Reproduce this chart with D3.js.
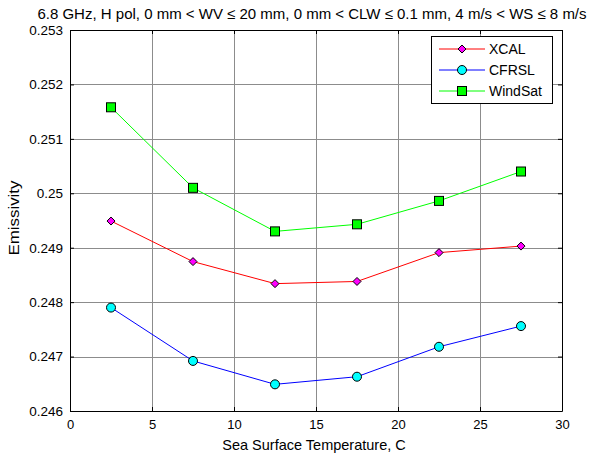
<!DOCTYPE html>
<html>
<head>
<meta charset="utf-8">
<script src="https://cdn.jsdelivr.net/npm/d3@7"></script>
<style>
  body { margin: 0; background: #fff; }
  text { font-family: "Liberation Sans", Arial, sans-serif; }
</style>
</head>
<body>
<svg id="chart" width="592" height="459"></svg>
<script>
// Sea surface temperature bins (C)
const sst = [2.5, 7.5, 12.5, 17.5, 22.5, 27.5];
// Emissivity per model
const xcal    = [0.24949, 0.248745, 0.24834, 0.24838, 0.24891, 0.24903];
const cfrsl   = [0.24790, 0.24692, 0.24649, 0.24663, 0.24718, 0.24756];
const windsat = [0.25158, 0.25010, 0.24930, 0.24943, 0.24986, 0.25040];
const xTicks = [0, 5, 10, 15, 20, 25, 30];
const yTicks = [0.246, 0.247, 0.248, 0.249, 0.25, 0.251, 0.252, 0.253];
const yTickLabels = ["0.246", "0.247", "0.248", "0.249", "0.25", "0.251", "0.252", "0.253"];

const series = [
  { name: "XCAL",    values: xcal,    line: "#ff0000", fill: "#ff00ff", shape: "diamond" },
  { name: "CFRSL",   values: cfrsl,   line: "#0000ff", fill: "#00ffff", shape: "circle" },
  { name: "WindSat", values: windsat, line: "#00ff00", fill: "#00ff00", shape: "square" }
];

const svg = d3.select("#chart");
const m = { left: 70, right: 562, top: 30, bottom: 411 };

const x = d3.scaleLinear().domain([0, 30]).range([m.left, m.right]);
const y = d3.scaleLinear().domain([0.246, 0.253]).range([m.bottom, m.top]);

// grid
const grid = svg.append("g").attr("stroke", "#8c8c8c").attr("stroke-width", 1);
xTicks.slice(1, -1).forEach(t => {
  grid.append("line").attr("x1", Math.round(x(t)) + 0.5).attr("x2", Math.round(x(t)) + 0.5)
    .attr("y1", m.top).attr("y2", m.bottom);
});
yTicks.slice(1, -1).forEach(t => {
  grid.append("line").attr("y1", Math.round(y(t)) + 0.5).attr("y2", Math.round(y(t)) + 0.5)
    .attr("x1", m.left).attr("x2", m.right);
});

// axes
const fmtY = d => yTickLabels[yTicks.indexOf(d)];
const axB = svg.append("g").attr("transform", `translate(0,${m.bottom})`)
  .call(d3.axisBottom(x).tickValues(xTicks).tickSizeInner(-4).tickSizeOuter(0).tickPadding(9));
const axT = svg.append("g").attr("transform", `translate(0,${m.top})`)
  .call(d3.axisTop(x).tickValues(xTicks).tickSizeInner(-4).tickSizeOuter(0).tickFormat(""));
const axL = svg.append("g").attr("transform", `translate(${m.left},0)`)
  .call(d3.axisLeft(y).tickValues(yTicks).tickFormat(fmtY).tickSizeInner(-4).tickSizeOuter(0).tickPadding(7));
const axR = svg.append("g").attr("transform", `translate(${m.right},0)`)
  .call(d3.axisRight(y).tickValues(yTicks).tickSizeInner(-4).tickSizeOuter(0).tickFormat(""));
[axB, axT, axL, axR].forEach(a => {
  a.selectAll("path, line").attr("stroke", "#000");
  a.selectAll("text").attr("font-size", 13.5).attr("fill", "#000")
    .attr("font-family", "'Liberation Sans', Arial, sans-serif");
});
axB.selectAll("text").attr("font-size", 13);

// markers
function marker(g, shape, fill, cx, cy) {
  if (shape === "diamond") {
    g.append("path").attr("d", `M${cx},${cy-4}L${cx+4},${cy}L${cx},${cy+4}L${cx-4},${cy}Z`)
      .attr("fill", fill).attr("stroke", "#000").attr("stroke-width", 1);
  } else if (shape === "circle") {
    g.append("circle").attr("cx", cx).attr("cy", cy).attr("r", 4.5)
      .attr("fill", fill).attr("stroke", "#000").attr("stroke-width", 1);
  } else {
    g.append("rect").attr("x", cx - 4.5).attr("y", cy - 4.5).attr("width", 9).attr("height", 9)
      .attr("fill", fill).attr("stroke", "#000").attr("stroke-width", 1);
  }
}

const line = d3.line().x(d => x(d[0])).y(d => y(d[1]));
series.forEach(s => {
  const pts = sst.map((t, i) => [t, s.values[i]]);
  const g = svg.append("g");
  g.append("path").datum(pts).attr("d", line).attr("fill", "none")
    .attr("stroke", s.line).attr("stroke-width", 1);
  pts.forEach(p => marker(g, s.shape, s.fill, x(p[0]), y(p[1])));
});

// legend
const lg = svg.append("g");
lg.append("rect").attr("x", 431.5).attr("y", 36.5).attr("width", 121).attr("height", 67)
  .attr("fill", "#fff").attr("stroke", "#000");
series.forEach((s, i) => {
  const ly = 49 + i * 21;
  lg.append("line").attr("x1", 439).attr("x2", 485).attr("y1", ly).attr("y2", ly)
    .attr("stroke", s.line).attr("stroke-width", 1);
  marker(lg, s.shape, s.fill, 462, ly);
  lg.append("text").attr("x", 489).attr("y", ly + 5).attr("font-size", 14).text(s.name);
});

// titles
svg.append("text").attr("x", 312).attr("y", 18.5).attr("text-anchor", "middle")
  .attr("font-size", 15).text("6.8 GHz, H pol, 0 mm < WV \u2264 20 mm, 0 mm < CLW \u2264 0.1 mm, 4 m/s < WS \u2264 8 m/s");
svg.append("text").attr("x", 314).attr("y", 450).attr("text-anchor", "middle")
  .attr("font-size", 14.5).text("Sea Surface Temperature, C");
svg.append("text").attr("transform", "translate(19,218) rotate(-90)").attr("text-anchor", "middle")
  .attr("font-size", 14).attr("textLength", 75).attr("lengthAdjust", "spacingAndGlyphs").text("Emissivity");
</script>
</body>
</html>
